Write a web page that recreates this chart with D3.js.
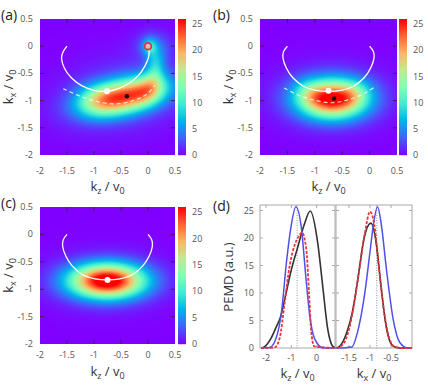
<!DOCTYPE html>
<html>
<head>
<meta charset="utf-8">
<script src="https://cdn.jsdelivr.net/npm/d3@7"></script>
<style>
    body { margin: 0; background: #fff; }
    svg { display: block; font-family: "Open Sans", sans-serif; }
    .tick-label { font-size: 9px; fill: #555; }
    .title { font-size: 13px; fill: #333; }
    .panel-label { font-size: 14px; fill: #222; }
</style>
</head>
<body>
<svg id="chart" width="428" height="385"></svg>
<script>
// axis ticks
const KZ_TICKS = [-2, -1.5, -1, -0.5, 0, 0.5];
const KX_TICKS = [0.5, 0, -0.5, -1, -1.5, -2];
const CBAR_TICKS = [0, 5, 10, 15, 20, 25];
const PEMD_TICKS = [0, 5, 10, 15, 20, 25];
const D_KZ_TICKS = [-2, -1, 0];
const D_KX_TICKS = [-1.5, -1, -0.5];

// density blobs: [kz, kx, sigmaLong, sigmaShort, angleDeg, amplitude]
const BLOBS_A = [
    [-0.45, -0.93, 0.50, 0.21, 12, 21],
    [-0.95, -0.99, 0.28, 0.20, 3, 5],
    [0.02, -0.78, 0.22, 0.17, 30, 6],
    [0.14, -0.45, 0.25, 0.12, 75, 5],
    [0.08, -0.12, 0.20, 0.11, 95, 3.5],
    [0.02, 0.00, 0.09, 0.09, 0, 5],
    [0.10, 0.02, 0.25, 0.18, 0, 2.5],
    [-0.40, -0.86, 0.85, 0.45, 10, 2.5]
];
const BLOBS_B = [
    [-0.68, -0.97, 0.42, 0.24, 0, 24],
    [-1.05, -0.88, 0.22, 0.15, -25, 3],
    [-0.30, -0.88, 0.22, 0.15, 25, 3],
    [-0.70, -0.93, 0.70, 0.40, 0, 2.5]
];
const BLOBS_C = [
    [-0.76, -0.85, 0.47, 0.21, 0, 27],
    [-0.76, -0.85, 0.75, 0.36, 0, 2]
];

// white solid trajectories
const PATH_A = [[-1.5, 0], [-1.58, -0.12], [-1.6, -0.23], [-1.55, -0.4], [-1.42, -0.58], [-1.22, -0.73],
    [-1.0, -0.81], [-0.76, -0.83], [-0.55, -0.78], [-0.35, -0.68], [-0.18, -0.54], [-0.06, -0.37],
    [0.01, -0.2], [0.02, -0.08], [0, 0]];
const PATH_BC = [[-1.5, 0], [-1.57, -0.1], [-1.58, -0.22], [-1.52, -0.4], [-1.4, -0.58], [-1.2, -0.74],
    [-0.98, -0.81], [-0.75, -0.83], [-0.52, -0.81], [-0.3, -0.74], [-0.1, -0.58], [0.02, -0.4],
    [0.08, -0.22], [0.07, -0.1], [0, 0]];
// white dashed curves
const DASH_A = [[-1.57, -0.78], [-1.2, -0.94], [-0.89, -1.03], [-0.58, -1.06], [-0.27, -1.0], [-0.02, -0.88], [0.13, -0.72]];
const DASH_B = [[-1.56, -0.77], [-1.3, -0.9], [-1.01, -0.99], [-0.71, -1.04], [-0.41, -0.99], [-0.12, -0.88], [0.12, -0.73]];

// markers
const WHITE_A = [-0.76, -0.83], BLACK_A = [-0.39, -0.92], RING_A = [0, 0];
const WHITE_B = [-0.75, -0.82], BLACK_B = [-0.65, -0.96];
const WHITE_C = [-0.75, -0.83];

// panel (d) profiles [k, PEMD]
const KZ_BLACK = [[-2.2, 0], [-2.07, 0.2], [-1.8, 1.8], [-1.6, 3.8], [-1.43, 5.6], [-1.23, 9.5], [-1.0, 14.2], [-0.76, 18.1],
    [-0.49, 22.4], [-0.25, 24.9], [0.04, 19.3], [0.24, 11.4], [0.44, 3.5], [0.64, 0.3], [0.75, 0]];
const KZ_BLUE = [[-2.2, 0], [-1.85, 0.1], [-1.6, 1.8], [-1.39, 6.5], [-1.19, 15.7], [-1.02, 21.8], [-0.82, 25.7], [-0.6, 21.8],
    [-0.43, 13.2], [-0.27, 5.9], [-0.07, 1.6], [0.27, 0], [0.75, 0]];
const KZ_RED = [[-2.2, 0], [-1.66, 0.1], [-1.46, 1.8], [-1.26, 8.4], [-1.06, 15.1], [-0.87, 18.7], [-0.72, 20.2], [-0.58, 21.0],
    [-0.41, 18.1], [-0.3, 10.2], [-0.21, 2.9], [-0.09, 0.3], [0.75, 0]];
const KX_BLACK = [[-1.8, 0], [-1.7, 0.5], [-1.55, 2.9], [-1.42, 6.5], [-1.3, 12], [-1.14, 20], [-0.98, 22.7], [-0.86, 19.5],
    [-0.74, 11.4], [-0.62, 4.1], [-0.46, 0.4], [-0.3, 0], [0, 0]];
const KX_BLUE = [[-1.8, 0], [-1.43, 0.2], [-1.3, 2.8], [-1.12, 10.2], [-1.0, 17.5], [-0.92, 22.4], [-0.82, 25.7], [-0.73, 22.4],
    [-0.61, 14.4], [-0.45, 5.3], [-0.29, 1.0], [-0.1, 0], [0, 0]];
const KX_RED = [[-1.8, 0], [-1.65, 0.6], [-1.5, 3.4], [-1.38, 8.0], [-1.25, 14.5], [-1.12, 21.0], [-1.0, 24.8], [-0.9, 22.5],
    [-0.8, 15.5], [-0.68, 7.5], [-0.55, 2.0], [-0.4, 0.2], [-0.2, 0], [0, 0]];

const VLINE_KZ = -0.77, VLINE_KX = -0.84;

// rainbow colour stops
const RAINBOW = ["#8000ff", "#4062fa", "#00b4ec", "#40ebd4", "#80ffb4", "#c0eb8e", "#ffb462", "#ff6232", "#ff0000"];
const ZMAX = 26;

const svg = d3.select("#chart");
const color = d3.scaleLinear()
    .domain(d3.range(RAINBOW.length).map(i => i / (RAINBOW.length - 1) * ZMAX))
    .range(RAINBOW)
    .clamp(true);

function density(blobs, kz, kx) {
    let v = 0;
    for (let b of blobs) {
        let a = b[4] * Math.PI / 180;
        let dx = kz - b[0], dy = kx - b[1];
        let u = dx * Math.cos(a) + dy * Math.sin(a);
        let w = -dx * Math.sin(a) + dy * Math.cos(a);
        v += b[5] * Math.exp(-(u * u / (2 * b[2] * b[2]) + w * w / (2 * b[3] * b[3])));
    }
    return v;
}

function subText(sel, base, sub1, mid, sub2) {
    sel.append("tspan").text(base);
    sel.append("tspan").attr("font-size", "9px").attr("dy", 3).text(sub1);
    sel.append("tspan").attr("dy", -3).text(mid);
    sel.append("tspan").attr("font-size", "9px").attr("dy", 3).text(sub2);
}

function drawMap(p) {
    let x = d3.scaleLinear().domain([-2, 0.5]).range([p.x0, p.x1]);
    let y = d3.scaleLinear().domain([-2, 0.5]).range([p.y1, p.y0]);
    let w = p.x1 - p.x0, h = p.y1 - p.y0;

    // heat map raster
    let canvas = document.createElement("canvas");
    canvas.width = w; canvas.height = h;
    let ctx = canvas.getContext("2d");
    let img = ctx.createImageData(w, h);
    for (let j = 0; j < h; j++) {
        for (let i = 0; i < w; i++) {
            let c = d3.rgb(color(density(p.blobs, x.invert(p.x0 + i + 0.5), y.invert(p.y0 + j + 0.5))));
            let k = (j * w + i) * 4;
            img.data[k] = c.r; img.data[k + 1] = c.g; img.data[k + 2] = c.b; img.data[k + 3] = 255;
        }
    }
    ctx.putImageData(img, 0, 0);
    svg.append("image")
        .attr("x", p.x0).attr("y", p.y0)
        .attr("width", w).attr("height", h)
        .attr("preserveAspectRatio", "none")
        .attr("href", canvas.toDataURL());

    // inward ticks on all sides
    let g = svg.append("g").attr("stroke", "#3a2060").attr("stroke-width", 1);
    KZ_TICKS.slice(1, -1).forEach(t => {
        g.append("line").attr("x1", x(t)).attr("x2", x(t)).attr("y1", p.y1).attr("y2", p.y1 - 4);
        g.append("line").attr("x1", x(t)).attr("x2", x(t)).attr("y1", p.y0).attr("y2", p.y0 + 4);
    });
    KX_TICKS.slice(1, -1).forEach(t => {
        g.append("line").attr("x1", p.x0).attr("x2", p.x0 + 4).attr("y1", y(t)).attr("y2", y(t));
        g.append("line").attr("x1", p.x1).attr("x2", p.x1 - 4).attr("y1", y(t)).attr("y2", y(t));
    });

    // tick labels
    svg.append("g").selectAll("text").data(KZ_TICKS).enter().append("text")
        .attr("class", "tick-label")
        .attr("x", d => x(d)).attr("y", p.y1 + p.xlab)
        .attr("text-anchor", "middle")
        .text(d => d);
    svg.append("g").selectAll("text").data(KX_TICKS).enter().append("text")
        .attr("class", "tick-label")
        .attr("x", p.x0 - 7).attr("y", d => y(d) + 3)
        .attr("text-anchor", "end")
        .text(d => d);

    // white curves and markers
    let line = d3.line().x(d => x(d[0])).y(d => y(d[1])).curve(d3.curveCatmullRom);
    svg.append("path").attr("d", line(p.path))
        .attr("fill", "none").attr("stroke", "#fff").attr("stroke-width", 1.3);
    if (p.dash) {
        svg.append("path").attr("d", line(p.dash))
            .attr("fill", "none").attr("stroke", "#fff").attr("stroke-opacity", 0.85)
            .attr("stroke-width", 1.1).attr("stroke-dasharray", "4,3");
    }
    if (p.ring) {
        svg.append("circle").attr("cx", x(p.ring[0])).attr("cy", y(p.ring[1])).attr("r", 3.4)
            .attr("fill", "#e8b0c8").attr("stroke", "#d83838").attr("stroke-width", 1.8);
    }
    svg.append("circle").attr("cx", x(p.white[0])).attr("cy", y(p.white[1])).attr("r", 3).attr("fill", "#fff");
    if (p.black) {
        svg.append("circle").attr("cx", x(p.black[0])).attr("cy", y(p.black[1])).attr("r", 2.2).attr("fill", "#111");
    }

    // colour bar
    let cy = d3.scaleLinear().domain([0, ZMAX]).range([p.y1, p.y0]);
    svg.append("g").selectAll("rect").data(d3.range(p.y0, p.y1)).enter().append("rect")
        .attr("x", p.cb0).attr("width", p.cb1 - p.cb0)
        .attr("y", d => d).attr("height", 1.2)
        .attr("fill", d => color(cy.invert(d + 0.5)));
    svg.append("g").selectAll("text").data(CBAR_TICKS).enter().append("text")
        .attr("class", "tick-label")
        .attr("x", p.cb1 + 6).attr("y", d => cy(d) + 3)
        .text(d => d);

    // titles
    let tx = svg.append("text").attr("class", "title")
        .attr("x", (p.x0 + p.x1) / 2).attr("y", p.y1 + p.xtitle)
        .attr("text-anchor", "middle");
    subText(tx, "k", "z", " / v", "0");
    let ty = svg.append("text").attr("class", "title")
        .attr("transform", `translate(${p.x0 - 27},${(p.y0 + p.y1) / 2}) rotate(-90)`)
        .attr("text-anchor", "middle");
    subText(ty, "k", "x", " / v", "0");
    svg.append("text").attr("class", "panel-label")
        .attr("x", p.lx).attr("y", p.ly).text(p.label);
}

drawMap({x0: 40, x1: 175, y0: 19, y1: 155, cb0: 178, cb1: 186, xlab: 19, xtitle: 36,
    blobs: BLOBS_A, path: PATH_A, dash: DASH_A, white: WHITE_A, black: BLACK_A, ring: RING_A,
    label: "(a)", lx: 1, ly: 20});
drawMap({x0: 260, x1: 397, y0: 19, y1: 155, cb0: 399, cb1: 407, xlab: 19, xtitle: 36,
    blobs: BLOBS_B, path: PATH_BC, dash: DASH_B, white: WHITE_B, black: BLACK_B,
    label: "(b)", lx: 213, ly: 20});
drawMap({x0: 40, x1: 175, y0: 207, y1: 344, cb0: 178, cb1: 186, xlab: 14, xtitle: 32,
    blobs: BLOBS_C, path: PATH_BC, white: WHITE_C,
    label: "(c)", lx: 1, ly: 208});

// panel (d)
function drawProfile(x0, x1, domain, ticks, curves, vline, sub, leftAxis) {
    let y0 = 205, y1 = 348;
    let x = d3.scaleLinear().domain(domain).range([x0, x1]);
    let y = d3.scaleLinear().domain([0, ZMAX]).range([y1, y0]);

    svg.append("rect").attr("x", x0).attr("y", y0).attr("width", x1 - x0).attr("height", y1 - y0)
        .attr("fill", "none").attr("stroke", "#aaa").attr("stroke-width", 1);
    let g = svg.append("g").attr("stroke", "#aaa");
    PEMD_TICKS.slice(1).forEach(t => {
        g.append("line").attr("x1", x0).attr("x2", x0 + 3).attr("y1", y(t)).attr("y2", y(t));
        g.append("line").attr("x1", x1).attr("x2", x1 - 3).attr("y1", y(t)).attr("y2", y(t));
    });
    ticks.forEach(t => {
        g.append("line").attr("x1", x(t)).attr("x2", x(t)).attr("y1", y1).attr("y2", y1 - 3);
        g.append("line").attr("x1", x(t)).attr("x2", x(t)).attr("y1", y0).attr("y2", y0 + 3);
    });

    svg.append("line").attr("x1", x(vline)).attr("x2", x(vline)).attr("y1", y0).attr("y2", y1)
        .attr("stroke", "#999").attr("stroke-width", 1).attr("stroke-dasharray", "1,1.5");

    let line = d3.line().x(d => x(d[0])).y(d => y(d[1])).curve(d3.curveMonotoneX);
    svg.append("path").attr("d", line(curves[0]))
        .attr("fill", "none").attr("stroke", "#333").attr("stroke-width", 1.6);
    svg.append("path").attr("d", line(curves[1]))
        .attr("fill", "none").attr("stroke", "#5050e8").attr("stroke-width", 1.5);
    svg.append("path").attr("d", line(curves[2]))
        .attr("fill", "none").attr("stroke", "#e8343a").attr("stroke-width", 1.8).attr("stroke-dasharray", "3,1.5");

    svg.append("g").selectAll("text").data(ticks).enter().append("text")
        .attr("class", "tick-label")
        .attr("x", d => x(d)).attr("y", 361)
        .attr("text-anchor", "middle")
        .text(d => d);
    if (leftAxis) {
        svg.append("g").selectAll("text").data(PEMD_TICKS).enter().append("text")
            .attr("class", "tick-label")
            .attr("x", x0 - 6).attr("y", d => y(d) + 3)
            .attr("text-anchor", "end")
            .text(d => d);
    }
    let tx = svg.append("text").attr("class", "title")
        .attr("x", (x0 + x1) / 2).attr("y", 378)
        .attr("text-anchor", "middle");
    subText(tx, "k", sub, " / v", "0");
}

drawProfile(260, 335, [-2.24, 0.73], D_KZ_TICKS, [KZ_BLACK, KZ_BLUE, KZ_RED], VLINE_KZ, "z", true);
drawProfile(336, 412, [-1.81, 0.0], D_KX_TICKS, [KX_BLACK, KX_BLUE, KX_RED], VLINE_KX, "x", false);

svg.append("text").attr("class", "title")
    .attr("transform", "translate(233,277) rotate(-90)")
    .attr("text-anchor", "middle")
    .text("PEMD (a.u.)");
svg.append("text").attr("class", "panel-label").attr("x", 213).attr("y", 211).text("(d)");
</script>
</body>
</html>
